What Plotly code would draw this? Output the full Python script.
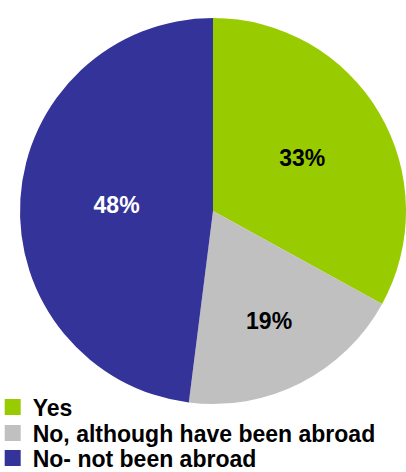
import plotly.graph_objects as go

labels = ["Yes", "No, although have been abroad", "No- not been abroad"]
values = [33, 19, 48]
colors = ["#99CC00", "#C0C0C0", "#333399"]
text_colors = ["#000000", "#000000", "#FFFFFF"]

W, H = 406, 472
FONT = "Arial, Liberation Sans, sans-serif"
fig = go.Figure(go.Pie(
    labels=labels, values=values, sort=False, direction="clockwise", rotation=0,
    marker=dict(colors=colors, line=dict(width=0)),
    textinfo="percent", texttemplate="%{percent:.0%}",
    textposition="inside", insidetextorientation="horizontal",
    insidetextfont=dict(family=FONT, size=23, color=text_colors, weight="bold"),
    domain=dict(x=[20 / W, 1], y=[66 / H, 456 / H]),
    hoverinfo="none", showlegend=False,
))

legend_rows_y = [407, 433, 458]
layout_legends = {}
for i, (lab, col) in enumerate(zip(labels, colors)):
    key = "legend" if i == 0 else f"legend{i + 1}"
    fig.add_trace(go.Scatter(
        x=[None], y=[None], mode="markers", name=lab,
        marker=dict(symbol="square", size=16, color=col),
        legend=key, showlegend=True, hoverinfo="none",
    ))
    layout_legends[key] = dict(
        x=-0.018, y=1 - legend_rows_y[i] / H, xanchor="left", yanchor="middle",
        font=dict(family=FONT, size=23, color="black", weight="bold"),
        bgcolor="rgba(0,0,0,0)", itemwidth=30, borderwidth=0,
    )

fig.update_layout(
    width=W, height=H, margin=dict(l=0, r=0, t=0, b=0, autoexpand=False),
    paper_bgcolor="white", plot_bgcolor="rgba(0,0,0,0)",
    showlegend=True,
    xaxis=dict(visible=False), yaxis=dict(visible=False),
    font=dict(family=FONT),
    **layout_legends,
)
fig.write_html("out.html")
